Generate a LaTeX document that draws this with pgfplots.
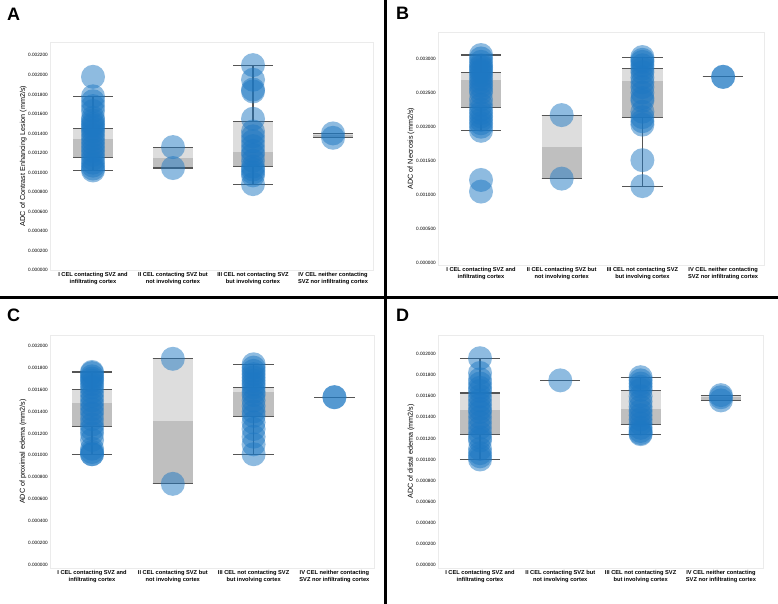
\documentclass[border=0pt]{standalone}
\usepackage{fontspec}
\setmainfont{Liberation Sans}
\usepackage{pgfplots}
\pgfplotsset{compat=1.18}
\definecolor{cblue}{RGB}{30,120,195}
\definecolor{boxlight}{RGB}{189,189,189}
\definecolor{boxdark}{RGB}{129,129,129}
\definecolor{wcol}{RGB}{85,85,85}
\definecolor{framec}{RGB}{235,235,235}
\pgfplotsset{
  dots/.style={only marks, draw=none, mark=*, mark size=12pt, mark options={draw=none, draw opacity=0, fill=cblue, fill opacity=0.5}},
  whisk/.style={draw=wcol, line width=1.1pt},
  panel/.style={
    scale only axis, anchor=south west,
    axis line style={draw=framec, line width=0.6pt},
    major tick length=0pt,
    xtick={0,1,2,3},
    xticklabels={{I CEL contacting SVZ and\\infiltrating cortex},{II CEL contacting SVZ but\\not involving cortex},{III CEL not contacting SVZ\\but involving cortex},{IV CEL neither contacting\\SVZ nor infiltrating cortex}},
    xticklabel style={align=center, font=\fontsize{5.7}{6.8}\selectfont\bfseries, inner sep=1pt, yshift=-1pt},
    yticklabel style={font=\fontsize{4.7}{5}\selectfont, inner sep=1pt, xshift=-1pt},
    scaled y ticks=false,
    /pgf/number format/.cd, fixed, fixed zerofill, precision=6, assume math mode=true,
    /pgfplots/.cd,
    ylabel style={at={(axis description cs:-0.083,0.5)}, anchor=center, rotate=0, font=\fontsize{7.2}{8}\selectfont},
  },
}
% #1 left, #2 right, #3 q1, #4 median, #5 q3
\newcommand{\bx}[5]{%
  \addplot[fill=boxdark, fill opacity=0.5, draw=none] coordinates {(#1,#3) (#2,#3) (#2,#4) (#1,#4)};
  \addplot[fill=boxlight, fill opacity=0.5, draw=none] coordinates {(#1,#4) (#2,#4) (#2,#5) (#1,#5)};
}
% #1 left, #2 center, #3 right, #4 lo, #5 q1, #6 q3, #7 hi
\newcommand{\wk}[7]{%
  \addplot[whisk] coordinates {(#2,#4) (#2,#5)};
  \addplot[whisk] coordinates {(#2,#6) (#2,#7)};
  \addplot[whisk] coordinates {(#1,#4) (#3,#4)};
  \addplot[whisk] coordinates {(#1,#7) (#3,#7)};
  \addplot[whisk] coordinates {(#1,#5) (#3,#5)};
  \addplot[whisk] coordinates {(#1,#6) (#3,#6)};
}
\begin{document}
\begin{tikzpicture}[x=1pt,y=1pt]
\path[use as bounding box, fill=white] (0,0) rectangle (778,604);
% ---------------- A ----------------
\begin{axis}[panel, at={(50pt,334pt)}, width=323pt, height=228pt,
  xmin=-0.5375, xmax=3.5, ymin=0, ymax=0.002337,
  ytick={0,0.0002,0.0004,0.0006,0.0008,0.001,0.0012,0.0014,0.0016,0.0018,0.002,0.0022},
  ylabel={ADC of Contrast Enhancing Lesion (mm2/s)}]
\addplot[dots] coordinates {(0,0.00198) (0,0.00178) (0,0.00173) (0,0.00168) (0,0.00163) (0,0.00156) (0,0.00153) (0,0.00150) (0,0.00148) (0,0.00145) (0,0.00142) (0,0.00138) (0,0.00134) (0,0.00130) (0,0.00126) (0,0.00122) (0,0.00118) (0,0.00114) (0,0.00110) (0,0.00107) (0,0.00104) (0,0.00102)};
\addplot[dots] coordinates {(1,0.00126) (1,0.001045)};
\addplot[dots] coordinates {(2,0.00210) (2,0.00195) (2,0.00185) (2,0.00183) (2,0.00155) (2,0.00142) (2,0.00137) (2,0.00132) (2,0.00127) (2,0.00122) (2,0.00118) (2,0.00112) (2,0.00106) (2,0.00103) (2,0.00100) (2,0.00097) (2,0.00088)};
\addplot[dots] coordinates {(3,0.00140) (3,0.001355)};
\bx{-0.25}{0.25}{0.00115}{0.00134}{0.00145}
\bx{0.75}{1.25}{0.001045}{0.00115}{0.00126}
\bx{1.75}{2.25}{0.00106}{0.00121}{0.001525}
\bx{2.75}{3.25}{0.001355}{0.00138}{0.00140}
\wk{-0.25}{0}{0.25}{0.00102}{0.00115}{0.00145}{0.00178}
\wk{0.75}{1}{1.25}{0.001045}{0.001045}{0.00126}{0.00126}
\wk{1.75}{2}{2.25}{0.00088}{0.00106}{0.001525}{0.00210}
\wk{2.75}{3}{3.25}{0.001355}{0.001355}{0.00140}{0.00140}
\end{axis}
% ---------------- B ----------------
\begin{axis}[panel, at={(438pt,339pt)}, width=326pt, height=233pt,
  xmin=-0.533, xmax=3.507, ymin=-0.000025, ymax=0.003387,
  ytick={0,0.0005,0.001,0.0015,0.002,0.0025,0.003},
  ylabel={ADC of Necrosis (mm2/s)}]
\addplot[dots] coordinates {(0,0.00305) (0,0.00300) (0,0.00295) (0,0.00290) (0,0.00287) (0,0.00283) (0,0.00280) (0,0.00275) (0,0.00270) (0,0.00265) (0,0.00260) (0,0.00255) (0,0.00250) (0,0.00240) (0,0.00232) (0,0.00225) (0,0.00220) (0,0.00215) (0,0.00210) (0,0.00205) (0,0.00200) (0,0.00194) (0,0.00122) (0,0.00105)};
\addplot[dots] coordinates {(1,0.00217) (1,0.00124)};
\addplot[dots] coordinates {(2,0.00302) (2,0.00298) (2,0.00295) (2,0.00290) (2,0.00285) (2,0.00280) (2,0.00272) (2,0.00265) (2,0.00258) (2,0.00250) (2,0.00242) (2,0.00238) (2,0.00222) (2,0.00214) (2,0.00208) (2,0.00203) (2,0.00151) (2,0.00113)};
\addplot[dots] coordinates {(3,0.00273) (3,0.00273)};
\bx{-0.25}{0.25}{0.00228}{0.00269}{0.00280}
\bx{0.75}{1.25}{0.00124}{0.00170}{0.00217}
\bx{1.75}{2.25}{0.00214}{0.00267}{0.002855}
\wk{-0.25}{0}{0.25}{0.00194}{0.00228}{0.00280}{0.00305}
\wk{0.75}{1}{1.25}{0.00124}{0.00124}{0.00217}{0.00217}
\wk{1.75}{2}{2.25}{0.00113}{0.00214}{0.002855}{0.00302}
\wk{2.75}{3}{3.25}{0.00273}{0.00273}{0.00273}{0.00273}
\end{axis}
% ---------------- C ----------------
\begin{axis}[panel, at={(50pt,36pt)}, width=324pt, height=233pt,
  xmin=-0.52, xmax=3.49, ymin=-0.0000273, ymax=0.002097,
  ytick={0,0.0002,0.0004,0.0006,0.0008,0.001,0.0012,0.0014,0.0016,0.0018,0.002},
  ylabel={ADC of proximal edema (mm2/s)}]
\addplot[dots] coordinates {(0,0.00176) (0,0.00175) (0,0.00172) (0,0.00170) (0,0.00168) (0,0.00165) (0,0.00162) (0,0.00158) (0,0.00154) (0,0.00150) (0,0.00146) (0,0.00142) (0,0.00138) (0,0.00133) (0,0.00128) (0,0.00124) (0,0.00120) (0,0.00114) (0,0.00106) (0,0.00103) (0,0.00101) (0,0.00101)};
\addplot[dots] coordinates {(1,0.00188) (1,0.00074)};
\addplot[dots] coordinates {(2,0.00183) (2,0.00180) (2,0.00177) (2,0.00174) (2,0.00171) (2,0.00168) (2,0.00165) (2,0.00162) (2,0.00158) (2,0.00155) (2,0.00150) (2,0.00145) (2,0.00140) (2,0.00136) (2,0.00130) (2,0.00124) (2,0.00117) (2,0.00110) (2,0.00101)};
\addplot[dots] coordinates {(3,0.00153) (3,0.00153)};
\bx{-0.25}{0.25}{0.00126}{0.00148}{0.00160}
\bx{0.75}{1.25}{0.00074}{0.00131}{0.00188}
\bx{1.75}{2.25}{0.001358}{0.00158}{0.00162}
\wk{-0.25}{0}{0.25}{0.00101}{0.00126}{0.00160}{0.00176}
\wk{0.75}{1}{1.25}{0.00074}{0.00074}{0.00188}{0.00188}
\wk{1.75}{2}{2.25}{0.00101}{0.001358}{0.00162}{0.00183}
\wk{2.75}{3}{3.25}{0.00153}{0.00153}{0.00153}{0.00153}
\end{axis}
% ---------------- D ----------------
\begin{axis}[panel, at={(438pt,36pt)}, width=325pt, height=233pt,
  xmin=-0.523, xmax=3.524, ymin=-0.0000284, ymax=0.00218,
  ytick={0,0.0002,0.0004,0.0006,0.0008,0.001,0.0012,0.0014,0.0016,0.0018,0.002},
  ylabel={ADC of distal edema (mm2/s)}]
\addplot[dots] coordinates {(0,0.00196) (0,0.00182) (0,0.00176) (0,0.00172) (0,0.00168) (0,0.00165) (0,0.00160) (0,0.00156) (0,0.00152) (0,0.00148) (0,0.00145) (0,0.00140) (0,0.00135) (0,0.00130) (0,0.00125) (0,0.00121) (0,0.00118) (0,0.00110) (0,0.00106) (0,0.00103) (0,0.00100)};
\addplot[dots] coordinates {(1,0.00175)};
\addplot[dots] coordinates {(2,0.00178) (2,0.00175) (2,0.00172) (2,0.00169) (2,0.00166) (2,0.00160) (2,0.00155) (2,0.00150) (2,0.00146) (2,0.00142) (2,0.00138) (2,0.00134) (2,0.00130) (2,0.00127) (2,0.00125) (2,0.00124)};
\addplot[dots] coordinates {(3,0.00161) (3,0.00159) (3,0.00156)};
\bx{-0.25}{0.25}{0.00124}{0.00147}{0.00163}
\bx{1.75}{2.25}{0.00133}{0.00148}{0.00165}
\bx{2.75}{3.25}{0.00156}{0.00159}{0.00161}
\wk{-0.25}{0}{0.25}{0.00100}{0.00124}{0.00163}{0.00196}
\wk{0.75}{1}{1.25}{0.00175}{0.00175}{0.00175}{0.00175}
\wk{1.75}{2}{2.25}{0.00124}{0.00133}{0.00165}{0.00178}
\wk{2.75}{3}{3.25}{0.00156}{0.00156}{0.00161}{0.00161}
\end{axis}
% panel letters and dividers
\node[anchor=base west, inner sep=0pt, font=\fontsize{18}{18}\selectfont\bfseries] at (7,583) {A};
\node[anchor=base west, inner sep=0pt, font=\fontsize{18}{18}\selectfont\bfseries] at (396,584) {B};
\node[anchor=base west, inner sep=0pt, font=\fontsize{18}{18}\selectfont\bfseries] at (7,282) {C};
\node[anchor=base west, inner sep=0pt, font=\fontsize{18}{18}\selectfont\bfseries] at (396,282) {D};
\draw[black, line width=2.5pt] (385.5,0) -- (385.5,604);
\draw[black, line width=2.5pt] (0,306.5) -- (778,306.5);
\end{tikzpicture}
\end{document}
